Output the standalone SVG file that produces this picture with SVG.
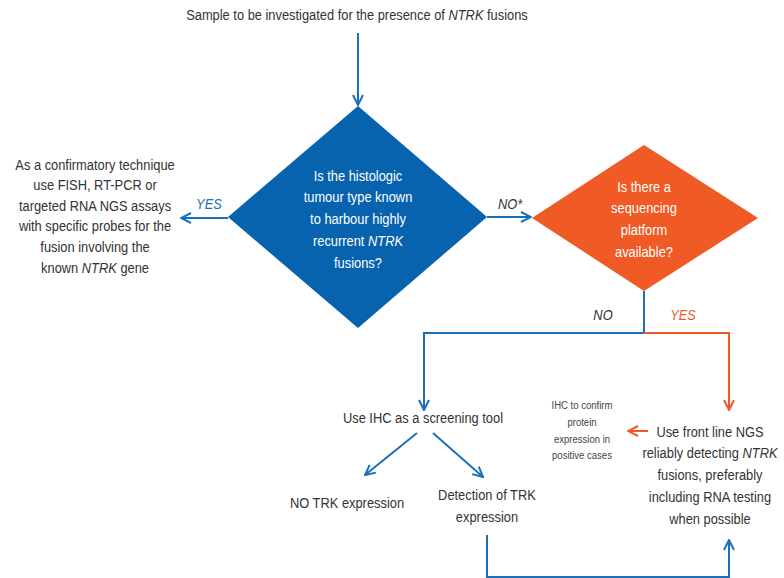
<svg xmlns="http://www.w3.org/2000/svg" width="784" height="578" viewBox="0 0 784 578">
<defs>
<style>
text{font-family:"Liberation Sans",Arial,sans-serif;font-size:15.5px;fill:#333;text-anchor:middle}
.w{fill:#fff}
.i{font-style:italic}
.lb{font-style:italic;fill:#1a6fba}
.lo{font-style:italic;fill:#f05a28}
.sm{font-size:11.5px;fill:#444}
.cb{fill:none;stroke:#1a6fba;stroke-width:2}
.co{fill:none;stroke:#f05a28;stroke-width:2}
</style>
<marker id="ab" viewBox="0 0 12 12" refX="11" refY="6" markerWidth="12" markerHeight="12" markerUnits="userSpaceOnUse" orient="auto">
<path d="M1,1 L11,6 L1,11" fill="none" stroke="#1a6fba" stroke-width="2"/>
</marker>
<marker id="ao" viewBox="0 0 12 12" refX="11" refY="6" markerWidth="12" markerHeight="12" markerUnits="userSpaceOnUse" orient="auto">
<path d="M1,1 L11,6 L1,11" fill="none" stroke="#f05a28" stroke-width="2"/>
</marker>
</defs>
<rect width="784" height="578" fill="#fff"/>

<g id="start" transform="scale(0.83 1)">
<text x="430.1" y="20">Sample to be investigated for the presence of <tspan class="i">NTRK</tspan> fusions</text>
</g>

<g id="q1">
<polygon points="358,106 487,217 358,328 228,217" fill="#0763ad"/>
<g transform="scale(0.83 1)">
<text class="w" x="431.3" y="181">Is the histologic</text>
<text class="w" x="431.3" y="202.5">tumour type known</text>
<text class="w" x="431.3" y="224">to harbour highly</text>
<text class="w" x="431.3" y="246">recurrent <tspan class="i">NTRK</tspan></text>
<text class="w" x="431.3" y="268">fusions?</text>
</g>
</g>

<g id="confirm" transform="scale(0.83 1)">
<text x="114.5" y="170">As a confirmatory technique</text>
<text x="114.5" y="190.5">use FISH, RT-PCR or</text>
<text x="114.5" y="211">targeted RNA NGS assays</text>
<text x="114.5" y="231.5">with specific probes for the</text>
<text x="114.5" y="252">fusion involving the</text>
<text x="114.5" y="273">known <tspan class="i">NTRK</tspan> gene</text>
</g>

<g id="q2">
<polygon points="644,145 758,218 644,291 532,218" fill="#f05a24"/>
<g transform="scale(0.83 1)">
<text class="w" x="775.9" y="192">Is there a</text>
<text class="w" x="775.9" y="213.5">sequencing</text>
<text class="w" x="775.9" y="235.5">platform</text>
<text class="w" x="775.9" y="257">available?</text>
</g>
</g>

<g id="ihc" transform="scale(0.83 1)">
<text x="509.6" y="423">Use IHC as a screening tool</text>
</g>

<g id="notrk" transform="scale(0.83 1)">
<text x="418.1" y="508">NO TRK expression</text>
</g>

<g id="trk" transform="scale(0.83 1)">
<text x="586.7" y="500">Detection of TRK</text>
<text x="586.7" y="522">expression</text>
</g>

<g id="ngs" transform="scale(0.83 1)">
<text x="855.4" y="437">Use front line NGS</text>
<text x="855.4" y="458.5">reliably detecting <tspan class="i">NTRK</tspan></text>
<text x="855.4" y="480.5">fusions, preferably</text>
<text x="855.4" y="502.5">including RNA testing</text>
<text x="855.4" y="524">when possible</text>
</g>

<g id="ihcconfirm" transform="scale(0.83 1)">
<text class="sm" x="701.2" y="409">IHC to confirm</text>
<text class="sm" x="701.2" y="426">protein</text>
<text class="sm" x="701.2" y="443">expression in</text>
<text class="sm" x="701.2" y="459">positive cases</text>
</g>

<g id="connectors">
<line class="cb" x1="358" y1="33" x2="358" y2="105" marker-end="url(#ab)"/>
<line class="cb" x1="228" y1="218" x2="181" y2="218" marker-end="url(#ab)"/>
<line class="cb" x1="487" y1="217" x2="531" y2="217" marker-end="url(#ab)"/>
<polyline class="cb" points="644,291 644,333 424,333 424,410" marker-end="url(#ab)"/>
<polyline class="co" points="644,333 729,333 729,410" marker-end="url(#ao)"/>
<line class="cb" x1="417" y1="433" x2="365" y2="475" marker-end="url(#ab)"/>
<line class="cb" x1="433" y1="433" x2="483" y2="477" marker-end="url(#ab)"/>
<polyline class="cb" points="487,535 487,577 729,577 729,540" marker-end="url(#ab)"/>
<line class="co" x1="648" y1="431" x2="628" y2="431" marker-end="url(#ao)"/>
<g transform="scale(0.83 1)">
<text class="lb" x="251.8" y="209">YES</text>
<text class="i" x="614.5" y="209">NO*</text>
<text class="i" x="726.5" y="320">NO</text>
<text class="lo" x="822.9" y="320">YES</text>
</g>
</g>
</svg>
